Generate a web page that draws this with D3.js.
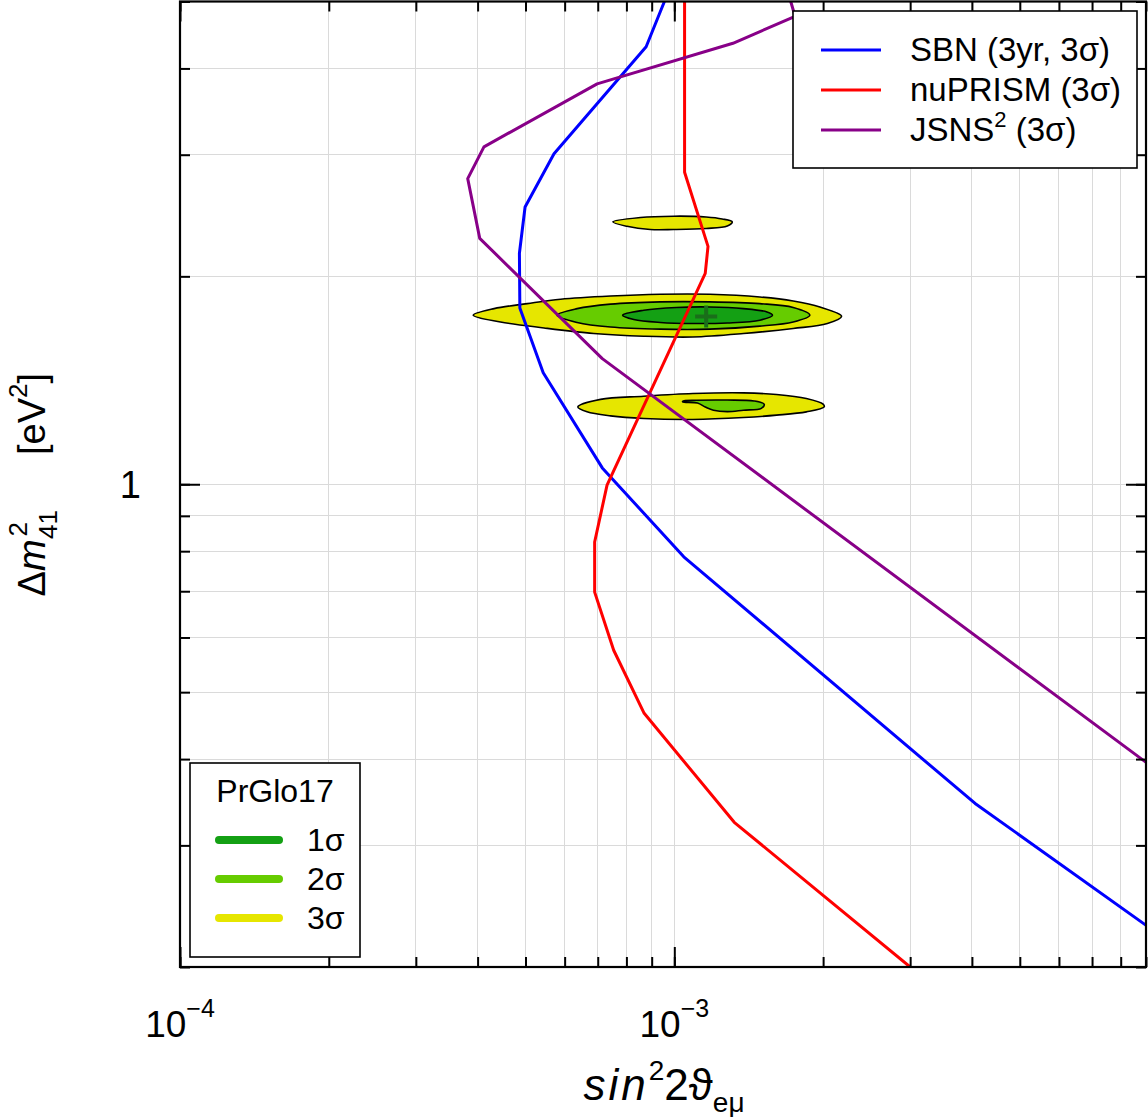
<!DOCTYPE html>
<html>
<head>
<meta charset="utf-8">
<script src="https://cdn.jsdelivr.net/npm/d3@7"></script>
<style>
  body { margin: 0; background: #fff; }
  svg { font-family: "Liberation Sans", Arial, Helvetica, sans-serif; }
</style>
</head>
<body>
<div id="chart"></div>
<script>
//////////
// DATA //
//////////

// sin^2 2theta_emu  vs  delta m^2_41 [eV^2]
const xDomain = [1e-4, 9e-3];
const yDomain = [0.2, 5];

const xMajorTicks = [1e-4, 1e-3];
const xTickExponents = ["\u22124", "\u22123"];
const yMajorTicks = [1];
const yTickLabels = ["1"];

const sbnCurve = [
  [9.55e-4, 5.0], [8.77e-4, 4.30], [5.71e-4, 3.01], [4.99e-4, 2.52],
  [4.86e-4, 2.16], [4.87e-4, 1.80], [5.43e-4, 1.45], [7.15e-4, 1.056],
  [1.045e-3, 0.785], [4.06e-3, 0.345], [8.99e-3, 0.230]
];

const nuprismCurve = [
  [1.049e-3, 5.0], [1.049e-3, 2.83], [1.170e-3, 2.21], [1.155e-3, 2.02],
  [7.31e-4, 0.997], [6.90e-4, 0.825], [6.90e-4, 0.698], [7.54e-4, 0.575],
  [8.69e-4, 0.466], [1.322e-3, 0.324], [3.0e-3, 0.2]
];

const jsnsCurve = [
  [1.72e-3, 5.0], [1.755e-3, 4.76], [1.314e-3, 4.35], [6.98e-4, 3.80],
  [4.12e-4, 3.08], [3.82e-4, 2.77], [4.04e-4, 2.27], [7.15e-4, 1.52],
  [8.99e-3, 0.396]
];

// PrGlo17 allowed regions
const sigma3Regions = [
  [[7.51e-4, 2.398], [8.54e-4, 2.433], [9.97e-4, 2.444], [1.16e-3, 2.438], [1.25e-3, 2.422],
   [1.31e-3, 2.398], [1.28e-3, 2.366], [1.16e-3, 2.346], [9.97e-4, 2.338], [8.94e-4, 2.338],
   [8.02e-4, 2.363]],
  [[3.92e-4, 1.757], [4.32e-4, 1.796], [5.04e-4, 1.826], [5.89e-4, 1.853], [7.43e-4, 1.873],
   [9.37e-4, 1.884], [1.18e-3, 1.884], [1.49e-3, 1.867], [1.74e-3, 1.842], [1.97e-3, 1.806],
   [2.18e-3, 1.751], [2.04e-3, 1.709], [1.74e-3, 1.681], [1.38e-3, 1.653], [1.09e-3, 1.634],
   [8.67e-4, 1.638], [6.87e-4, 1.653], [5.45e-4, 1.684], [4.45e-4, 1.718]],
  [[6.38e-4, 1.294], [7.09e-4, 1.327], [8.67e-4, 1.341], [1.09e-3, 1.353], [1.38e-3, 1.356],
   [1.61e-3, 1.349], [1.85e-3, 1.331], [2.0e-3, 1.306], [2.01e-3, 1.294], [1.85e-3, 1.273],
   [1.61e-3, 1.259], [1.38e-3, 1.249], [1.09e-3, 1.241], [8.67e-4, 1.245], [7.43e-4, 1.256],
   [6.66e-4, 1.273]]
];

const sigma2Regions = [
  [[5.79e-4, 1.757], [6.36e-4, 1.796], [7.43e-4, 1.823], [9.37e-4, 1.837], [1.18e-3, 1.837],
   [1.49e-3, 1.826], [1.74e-3, 1.803], [1.88e-3, 1.757], [1.74e-3, 1.718], [1.49e-3, 1.694],
   [1.18e-3, 1.677], [9.37e-4, 1.677], [7.43e-4, 1.689], [6.36e-4, 1.715]],
  [[1.04e-3, 1.319], [1.11e-3, 1.323], [1.28e-3, 1.324], [1.45e-3, 1.320], [1.52e-3, 1.306],
   [1.50e-3, 1.288], [1.38e-3, 1.280], [1.28e-3, 1.274], [1.20e-3, 1.280], [1.155e-3, 1.294],
   [1.114e-3, 1.311], [1.04e-3, 1.316]]
];

const sigma1Regions = [
  [[7.86e-4, 1.757], [8.67e-4, 1.786], [1.01e-3, 1.803], [1.18e-3, 1.806], [1.38e-3, 1.796],
   [1.54e-3, 1.776], [1.58e-3, 1.757], [1.49e-3, 1.728], [1.28e-3, 1.712], [1.09e-3, 1.709],
   [9.37e-4, 1.715], [8.28e-4, 1.732]]
];

const bestFit = [1.16e-3, 1.75];

const experimentNames = ["SBN (3yr, 3\u03c3)", "nuPRISM (3\u03c3)", "JSNS"];
const experimentColors = ["#0000ff", "#ff0000", "#880088"];
const sigmaNames = ["1\u03c3", "2\u03c3", "3\u03c3"];
const sigmaColors = ["#14a014", "#66cc00", "#e6e600"];

//////////////////////////////
// SVG AND GRAPH DIMENSIONS //
//////////////////////////////

const svgWidth = 1148, svgHeight = 1117;
const plot = { left: 180, right: 1146, top: 1.5, bottom: 967 };

const svg = d3.select("#chart").append("svg")
  .attr("width", svgWidth)
  .attr("height", svgHeight);

const x = d3.scaleLog().domain(xDomain).range([plot.left, plot.right]);
const y = d3.scaleLog().domain(yDomain).range([plot.bottom, plot.top]);

svg.append("defs").append("clipPath")
  .attr("id", "plotClip")
  .append("rect")
  .attr("x", plot.left).attr("y", plot.top)
  .attr("width", plot.right - plot.left)
  .attr("height", plot.bottom - plot.top);

//////////
// GRID //
//////////

const grid = svg.append("g").attr("class", "grid")
  .attr("stroke", "#dadada").attr("stroke-width", 1)
  .attr("shape-rendering", "crispEdges");

grid.selectAll(".gx").data(x.ticks()).enter().append("line")
  .attr("class", "gx")
  .attr("x1", d => x(d)).attr("x2", d => x(d))
  .attr("y1", plot.top).attr("y2", plot.bottom);

grid.selectAll(".gy").data(y.ticks()).enter().append("line")
  .attr("class", "gy")
  .attr("y1", d => y(d)).attr("y2", d => y(d))
  .attr("x1", plot.left).attr("x2", plot.right);

/////////////
// REGIONS //
/////////////

const regionLine = d3.line()
  .x(d => x(d[0]))
  .y(d => y(d[1]))
  .curve(d3.curveCatmullRomClosed.alpha(0.5));

const regions = svg.append("g").attr("clip-path", "url(#plotClip)");

[[sigma3Regions, sigmaColors[2]], [sigma2Regions, sigmaColors[1]], [sigma1Regions, sigmaColors[0]]]
  .forEach(function (r) {
    regions.selectAll(null).data(r[0]).enter().append("path")
      .attr("d", regionLine)
      .attr("fill", r[1])
      .attr("stroke", "#000")
      .attr("stroke-width", 1.6)
      .attr("stroke-linejoin", "round");
  });

// best fit cross
const bx = x(bestFit[0]), by = y(bestFit[1]);
regions.append("path")
  .attr("d", "M" + (bx - 11) + "," + by + "H" + (bx + 11) + "M" + bx + "," + (by - 11) + "V" + (by + 11))
  .attr("stroke", "#1a6e1a")
  .attr("stroke-width", 4);

////////////
// CURVES //
////////////

const curveLine = d3.line()
  .x(d => x(d[0]))
  .y(d => y(d[1]));

const curves = svg.append("g").attr("clip-path", "url(#plotClip)");

[sbnCurve, nuprismCurve, jsnsCurve].forEach(function (c, i) {
  curves.append("path")
    .datum(c)
    .attr("d", curveLine)
    .attr("fill", "none")
    .attr("stroke", experimentColors[i])
    .attr("stroke-width", 3)
    .attr("stroke-linejoin", "round");
});

//////////
// AXES //
//////////

function styleAxis(g) {
  g.select(".domain").remove();
  g.selectAll(".tick line").attr("stroke", "#000").attr("stroke-width", 2);
  g.selectAll(".tick text").remove();
}

const xMinor = x.ticks();
const yMinor = y.ticks();

svg.append("g").attr("transform", "translate(0," + plot.bottom + ")")
  .call(d3.axisBottom(x).tickValues(xMinor).tickSize(-10)).call(styleAxis);
svg.append("g").attr("transform", "translate(0," + plot.bottom + ")")
  .call(d3.axisBottom(x).tickValues(xMajorTicks).tickSize(-20)).call(styleAxis);
svg.append("g").attr("transform", "translate(0," + plot.top + ")")
  .call(d3.axisTop(x).tickValues(xMinor).tickSize(-10)).call(styleAxis);
svg.append("g").attr("transform", "translate(0," + plot.top + ")")
  .call(d3.axisTop(x).tickValues(xMajorTicks).tickSize(-20)).call(styleAxis);

svg.append("g").attr("transform", "translate(" + plot.left + ",0)")
  .call(d3.axisLeft(y).tickValues(yMinor).tickSize(-10)).call(styleAxis);
svg.append("g").attr("transform", "translate(" + plot.left + ",0)")
  .call(d3.axisLeft(y).tickValues(yMajorTicks).tickSize(-20)).call(styleAxis);
svg.append("g").attr("transform", "translate(" + plot.right + ",0)")
  .call(d3.axisRight(y).tickValues(yMinor).tickSize(-10)).call(styleAxis);
svg.append("g").attr("transform", "translate(" + plot.right + ",0)")
  .call(d3.axisRight(y).tickValues(yMajorTicks).tickSize(-20)).call(styleAxis);

// tick labels
const xLabels = svg.selectAll(".xlab").data(xMajorTicks).enter().append("text")
  .attr("class", "xlab")
  .attr("x", d => x(d))
  .attr("y", 1037)
  .attr("text-anchor", "middle")
  .attr("font-size", 37);
xLabels.append("tspan").text("10");
xLabels.append("tspan").attr("font-size", 25).attr("dy", -20).text((d, i) => xTickExponents[i]);

svg.selectAll(".ylab").data(yMajorTicks).enter().append("text")
  .attr("class", "ylab")
  .attr("x", 141)
  .attr("y", d => y(d) + 14)
  .attr("text-anchor", "end")
  .attr("font-size", 38)
  .text((d, i) => yTickLabels[i]);

// axis titles
const xTitle = svg.append("text")
  .attr("x", 664).attr("y", 1100)
  .attr("text-anchor", "middle")
  .attr("font-size", 44);
xTitle.append("tspan").attr("font-style", "italic").attr("letter-spacing", 3).text("sin");
xTitle.append("tspan").attr("font-size", 28).attr("dy", -20).text("2");
xTitle.append("tspan").attr("dy", 20).text("2\u03d1");
xTitle.append("tspan").attr("font-size", 28).attr("dy", 12).text("e\u03bc");

const yTitle = svg.append("g").attr("transform", "translate(45,486) rotate(-90)");
const yt1 = yTitle.append("text")
  .attr("x", -24).attr("y", 0)
  .attr("text-anchor", "end")
  .attr("font-size", 38);
yt1.append("tspan").text("\u0394");
yt1.append("tspan").attr("font-style", "italic").text("m");
yt1.append("tspan").attr("font-size", 26).attr("dy", -18).attr("dx", 3).text("2");
yt1.append("tspan").attr("font-size", 26).attr("dy", 30).attr("dx", -17).text("41");

const yt2 = yTitle.append("text")
  .attr("x", 31).attr("y", 0)
  .attr("text-anchor", "start")
  .attr("font-size", 38);
yt2.append("tspan").text("[eV");
yt2.append("tspan").attr("font-size", 26).attr("dy", -18).text("2");
yt2.append("tspan").attr("dy", 18).text("]");

// frame
svg.append("rect")
  .attr("x", plot.left).attr("y", plot.top)
  .attr("width", plot.right - plot.left)
  .attr("height", plot.bottom - plot.top)
  .attr("fill", "none")
  .attr("stroke", "#000")
  .attr("stroke-width", 2.2);

/////////////
// LEGENDS //
/////////////

const legExp = svg.append("g").attr("transform", "translate(793,11)");
legExp.append("rect")
  .attr("width", 344).attr("height", 157)
  .attr("fill", "#fff").attr("stroke", "#000").attr("stroke-width", 1.6);

const expRows = legExp.selectAll(".row").data(experimentNames).enter().append("g")
  .attr("class", "row")
  .attr("transform", (d, i) => "translate(0," + (39 + i * 40) + ")");
expRows.append("line")
  .attr("x1", 28).attr("x2", 88)
  .attr("stroke", (d, i) => experimentColors[i])
  .attr("stroke-width", 3);
const expText = expRows.append("text")
  .attr("x", 117).attr("y", 11)
  .attr("font-size", 33);
expText.append("tspan").text(d => d);
expText.filter((d, i) => i === 2).append("tspan").attr("font-size", 22).attr("dy", -14).text("2");
expText.filter((d, i) => i === 2).append("tspan").attr("dy", 14).text(" (3\u03c3)");

const legSig = svg.append("g").attr("transform", "translate(190,763)");
legSig.append("rect")
  .attr("width", 170).attr("height", 194)
  .attr("fill", "#fff").attr("stroke", "#000").attr("stroke-width", 1.6);
legSig.append("text")
  .attr("x", 85).attr("y", 39)
  .attr("text-anchor", "middle")
  .attr("font-size", 32)
  .text("PrGlo17");

const sigRows = legSig.selectAll(".srow").data(sigmaNames).enter().append("g")
  .attr("class", "srow")
  .attr("transform", (d, i) => "translate(0," + (77 + i * 39) + ")");
sigRows.append("line")
  .attr("x1", 29).attr("x2", 89)
  .attr("stroke", (d, i) => sigmaColors[i])
  .attr("stroke-width", 8)
  .attr("stroke-linecap", "round");
sigRows.append("text")
  .attr("x", 117).attr("y", 11)
  .attr("font-size", 32)
  .text(d => d);
</script>
</body>
</html>
